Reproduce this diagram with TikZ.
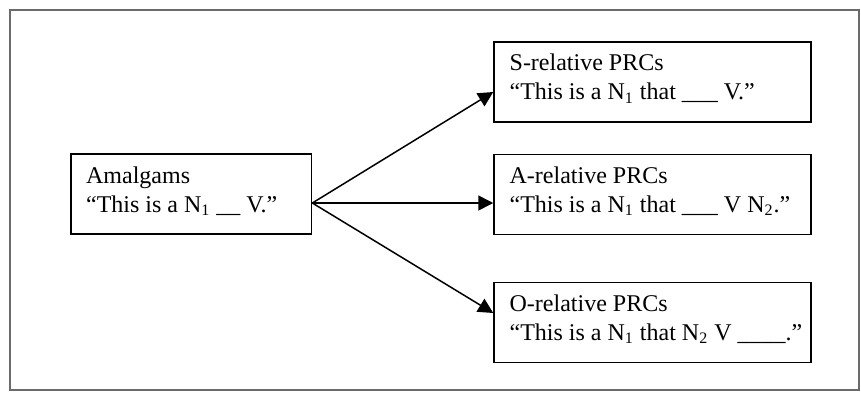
\documentclass[tikz,border=0pt]{standalone}
\usepackage{fontspec}
\setmainfont{Liberation Serif}
\usetikzlibrary{arrows.meta,calc}
\begin{document}
\begin{tikzpicture}[x=0.5pt,y=-0.5pt,
  box/.style={draw=black, line width=0.75pt, inner sep=0pt, minimum height=40pt},
  leftbox/.style={box, minimum width=120.3pt},
  rightbox/.style={box, minimum width=158.5pt},
  txt/.style={anchor=base west, inner sep=0pt, font=\fontsize{12}{14.5}\selectfont},
  arr/.style={line width=0.75pt, draw=black, -{Triangle[length=7.5pt,width=7.5pt]}},
  frame/.style={draw=black!58, line width=1pt}]
\useasboundingbox (0,0) rectangle (861,392);
\draw[frame] (9.5,9.5) rectangle (858.5,389.5);
% boxes
\node[leftbox] (am) at (191.3,194) {};
\node[rightbox] (s) at (652.5,82) {};
\node[rightbox] (a) at (652.5,194.5) {};
\node[rightbox] (o) at (652.5,322.5) {};
% texts
\node[txt] (amt1) at ($(am.north west)+(15.5,30)$) {Amalgams};
\node[txt] (amt2) at ($(am.north west)+(15.5,59)$) {“This is a N\textsubscript{1} \_\_ V.”};
\node[txt] (st1) at ($(s.north west)+(16,29.5)$) {S-relative PRCs};
\node[txt] (st2) at ($(s.north west)+(16,58.5)$) {“This is a N\textsubscript{1} that \_\_\_ V.”};
\node[txt] (at1) at ($(a.north west)+(16,29.5)$) {A-relative PRCs};
\node[txt] (at2) at ($(a.north west)+(16,58.5)$) {“This is a N\textsubscript{1} that \_\_\_ V N\textsubscript{2}.”};
\node[txt] (ot1) at ($(o.north west)+(16,29.5)$) {O-relative PRCs};
\node[txt] (ot2) at ($(o.north west)+(16,58.5)$) {“This is a N\textsubscript{1} that N\textsubscript{2} V \_\_\_\_.”};
% connectors
\coordinate (src) at ($(am.east)+(0,9)$);
\coordinate (sin) at ($(s.west)+(0,10)$);
\coordinate (ain) at ($(a.west)+(0,8.5)$);
\coordinate (oin) at ($(o.west)+(0,-9.5)$);
\draw[arr] (src) -- (sin);
\draw[arr] (src) -- (ain);
\draw[arr] (src) -- (oin);
\end{tikzpicture}
\end{document}
